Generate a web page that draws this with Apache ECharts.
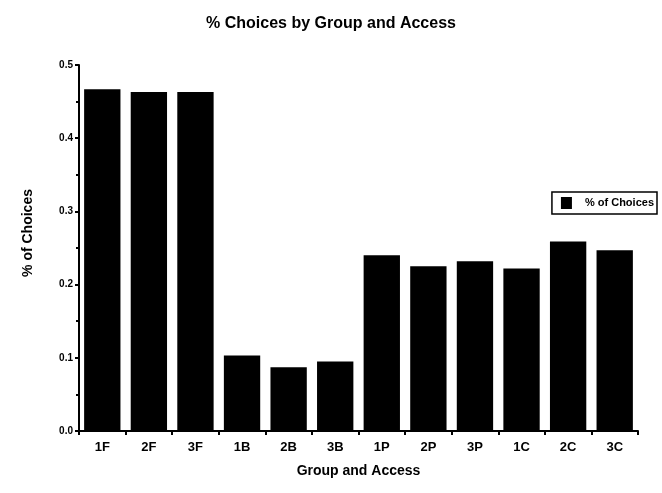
<!DOCTYPE html>
<html>
<head>
<meta charset="utf-8">
<script src="https://cdn.jsdelivr.net/npm/echarts@6/dist/echarts.min.js"></script>
<style>
  html, body { margin: 0; padding: 0; background: #fff; }
  #chart { width: 662px; height: 493px; }
</style>
</head>
<body>
<div id="chart"></div>
<script>
const groups = ['1F', '2F', '3F', '1B', '2B', '3B', '1P', '2P', '3P', '1C', '2C', '3C']
const choices = [0.467, 0.463, 0.463, 0.103, 0.087, 0.095, 0.240, 0.225, 0.232, 0.222, 0.259, 0.247]

const chart = echarts.init(document.getElementById('chart'))
const font = 'Liberation Sans, Arial, sans-serif'

chart.setOption({
  backgroundColor: '#fff',
  animation: false,
  title: {
    text: '% Choices by Group and Access',
    left: 'center',
    top: 11,
    textStyle: { fontFamily: font, fontSize: 16, fontWeight: 'bold', color: '#000' },
  },
  legend: {
    right: 5,
    top: 192,
    orient: 'vertical',
    icon: 'rect',
    itemWidth: 11,
    itemHeight: 12,
    padding: [5, 3, 5, 9],
    borderColor: '#000',
    borderWidth: 1.5,
    textStyle: { fontFamily: font, fontSize: 11, fontWeight: 'bold', color: '#000', padding: [0, 0, 0, 8] },
    data: ['% of Choices'],
  },
  grid: { left: 79, right: 24, top: 65, bottom: 62 },
  xAxis: {
    type: 'category',
    data: groups,
    name: 'Group and Access',
    nameLocation: 'middle',
    nameGap: 33,
    nameTextStyle: { fontFamily: font, fontSize: 14, fontWeight: 'bold', color: '#000' },
    axisLine: { lineStyle: { color: '#000', width: 2 } },
    axisTick: { show: true, length: 4, lineStyle: { color: '#000', width: 2 } },
    axisLabel: { fontFamily: font, fontSize: 13, fontWeight: 'bold', color: '#000', margin: 10 },
  },
  yAxis: {
    type: 'value',
    min: 0,
    max: 0.5,
    interval: 0.1,
    name: '% of Choices',
    nameLocation: 'middle',
    nameGap: 44,
    nameTextStyle: {
      fontFamily: font, fontSize: 14, fontWeight: 'bold', color: '#000',
      padding: [0, 0, 0, 30],
    },
    axisLine: { show: true, lineStyle: { color: '#000', width: 2 } },
    axisTick: { show: true, length: 4, lineStyle: { color: '#000', width: 2 } },
    minorTick: { show: true, splitNumber: 2, length: 3, lineStyle: { color: '#000', width: 2 } },
    splitLine: { show: false },
    axisLabel: {
      fontFamily: font, fontSize: 10, fontWeight: 'bold', color: '#000', margin: 6,
      formatter: (v) => v.toFixed(1),
    },
  },
  series: [
    {
      name: '% of Choices',
      type: 'bar',
      data: choices,
      barCategoryGap: '22%',
      itemStyle: { color: '#000' },
    },
  ],
})
</script>
</body>
</html>
